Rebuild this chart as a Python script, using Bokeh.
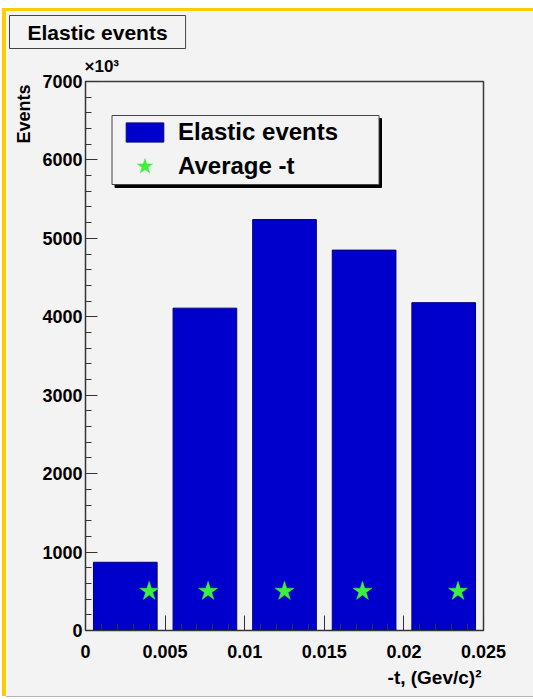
from bokeh.plotting import figure
from bokeh.models import (FixedTicker, NumeralTickFormatter, Legend, LegendItem,
                          BoxAnnotation, Title)
from bokeh.embed import file_html
from bokeh.resources import INLINE

# -t bins, (GeV/c)^2
bin_low = [0.000, 0.005, 0.010, 0.015, 0.020]
bin_width = 0.005
# elastic events per bin, in units of 10^3
elastic_events = [870, 4110, 5240, 4850, 4180]
# mean -t inside each bin, drawn at a fixed height
average_t = [0.0040, 0.0077, 0.0125, 0.0174, 0.0234]
average_t_level = [500, 500, 500, 500, 500]

x_ticks = [0.0, 0.005, 0.010, 0.015, 0.020, 0.025]
y_ticks = [0, 1000, 2000, 3000, 4000, 5000, 6000, 7000]

FONT = "Liberation Sans"
PAD = "#f3f3f3"
BAR = "#0000cc"
STAR = "#3cf03c"
INK = "#333333"

# the canvas sits inside a yellow-edged pad starting at page (6, 11)
OX, OY = 6, 11

p = figure(width=527, height=685, x_range=(0, 0.025), y_range=(0, 7000),
           output_backend="svg", toolbar_location=None, title=None,
           min_border_left=79, min_border_right=50,
           min_border_top=70, min_border_bottom=66,
           background_fill_color=PAD, border_fill_color=PAD)
# pad edge: yellow along top and left, thin grey line underneath
p.styles = {"margin-top": f"{OY}px", "margin-left": f"{OX}px",
            "box-shadow": ("0 -3px 0 0 #ffcc00, -4px 0 0 0 #ffcc00, "
                           "-4px -3px 0 0 #ffcc00, 0 1px 0 0 #b4b4b4")}
p.grid.visible = False
p.outline_line_color = "#3a3a3a"
p.outline_line_width = 1.5

centers = [lo + bin_width / 2 for lo in bin_low]
bars = p.vbar(x=centers, top=elastic_events, width=0.8 * bin_width,
              fill_color=BAR, line_color="#000080", line_width=1)
stars = p.scatter(average_t, average_t_level, marker="star", size=20,
                  fill_color=STAR, line_color=STAR, line_width=0.5)

# axes: ticks point into the frame
xa = p.xaxis[0]
xa.ticker = FixedTicker(ticks=x_ticks,
                        minor_ticks=[i * 0.001 for i in range(26)])
xa.formatter = NumeralTickFormatter(format="0.[000]")
xa.major_tick_in, xa.major_tick_out = 15, 0
xa.minor_tick_in, xa.minor_tick_out = 7, 0
xa.major_label_standoff = 14

ya = p.yaxis[0]
ya.ticker = FixedTicker(ticks=y_ticks, minor_ticks=list(range(0, 7001, 200)))
ya.major_tick_in, ya.major_tick_out = 12, 0
ya.minor_tick_in, ya.minor_tick_out = 6, 0
ya.major_label_standoff = 3

for ax in (xa, ya):
    ax.axis_line_color = INK
    ax.major_tick_line_color = INK
    ax.minor_tick_line_color = INK
    ax.major_label_text_font = FONT
    ax.major_label_text_font_style = "bold"
    ax.major_label_text_font_size = "18px"
    ax.major_label_text_color = "black"


def heading(text, size, **kw):
    return Title(text=text, text_font=FONT, text_font_style="bold",
                 text_font_size=size, text_color="black", **kw)


# axis titles sit at the far ends of their axes
p.add_layout(heading("-t, (Gev/c)\u00b2", "19px", align="right", offset=2,
                     standoff=0, padding=(0, 4)), "below")
p.add_layout(heading("Events", "18px", align="right", offset=3,
                     standoff=0, padding=(0, 6)), "left")

# common multiplier of the y axis, then the histogram title box
p.add_layout(heading("\u00d710\u00b3", "17px", align="left", offset=-1,
                     standoff=12), "above")
p.add_layout(heading("Elastic events", "21px", align="left", offset=-76,
                     standoff=0, padding=(18, 5), background_fill_color=PAD,
                     border_line_color="#444444", border_line_width=1),
             "above")


def box(l, t, r, b, fill, line):
    return BoxAnnotation(left=l - OX, right=r - OX, top=t - OY, bottom=b - OY,
                         left_units="canvas", right_units="canvas",
                         top_units="canvas", bottom_units="canvas",
                         fill_color=fill, fill_alpha=1, line_color=line,
                         line_alpha=1, line_width=1)


# legend frame with its drop shadow
p.add_layout(box(114.5, 118, 381, 187, "black", "black"))
p.add_layout(box(111.5, 115, 378.5, 184, PAD, "#444444"))

leg_bar = Legend(items=[LegendItem(label="Elastic events", renderers=[bars])],
                 location=(36, 484), glyph_width=47, glyph_height=24,
                 label_height=24, label_standoff=10, padding=0, margin=0,
                 spacing=0, border_line_alpha=0, background_fill_alpha=0)
leg_star = Legend(items=[LegendItem(label="Average -t", renderers=[stars])],
                  location=(36, 444), glyph_width=47, glyph_height=40,
                  label_height=40, label_standoff=10, padding=0, margin=0,
                  spacing=0, border_line_alpha=0, background_fill_alpha=0)
for lg in (leg_bar, leg_star):
    lg.label_text_font = FONT
    lg.label_text_font_style = "bold"
    lg.label_text_font_size = "24px"
    lg.label_text_color = "black"
    p.add_layout(lg)

open("out.html", "w").write(file_html(p, INLINE))
